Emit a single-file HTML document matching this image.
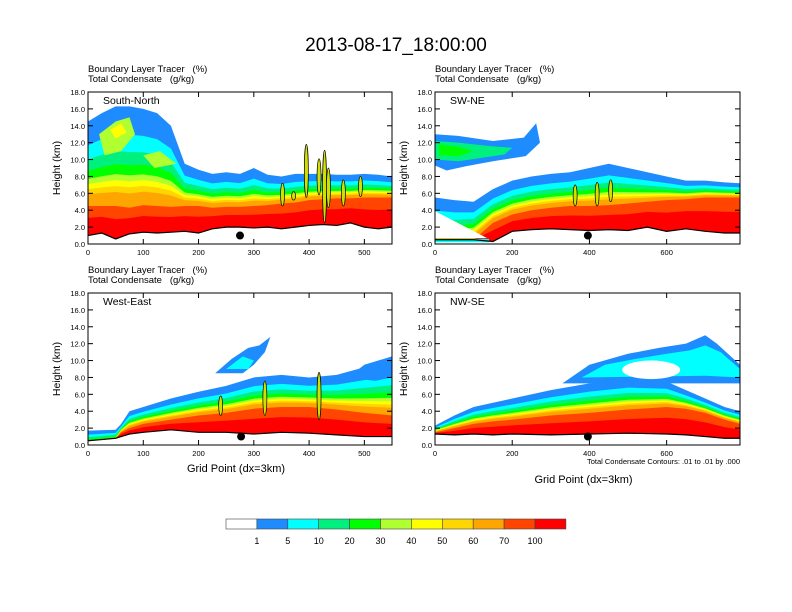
<!DOCTYPE html>
<html><head><meta charset="utf-8"><style>
body{margin:0;background:#fff;}
svg{display:block;font-family:"Liberation Sans",sans-serif;}
</style></head><body>
<svg id="c" width="792" height="612" viewBox="0 0 792 612"></svg>
<script>
// ---- data ----
const levelLabels = ["1","5","10","20","30","40","50","60","70","100"];
const levelColors = ["#ffffff","#1e8cff","#00ffff","#00f080","#00ff00","#b0ff30","#ffff00","#ffd700","#ffa500","#ff4500","#ff0000"];
const levelFractions = [1.0,0.72,0.55,0.42,0.32,0.26,0.2,0.14,0.0];
const redFraction = 0.6; // red (>100) top between terrain and orange-red top

const p1X = [0,25,50,75,100,125,150,175,200,225,250,275,300,325,350,375,400,425,450,475,500,525,550];
const p1Terrain = [1.0,1.3,0.6,1.2,1.4,1.3,1.4,1.5,1.3,1.8,2.0,2.0,1.9,2.0,1.8,2.0,2.2,2.3,2.2,2.5,2.0,1.8,2.0];
const p1Red = [4.5,4.5,4.5,4.3,4.6,4.5,4.4,4.5,4.5,4.3,4.4,4.4,4.5,4.6,4.8,4.9,5.2,5.3,5.4,5.4,5.5,5.5,5.5];
const p1Blue = [14.5,15.5,16.3,16.3,16.0,15.5,14.0,9.5,8.8,8.3,8.5,8.3,9.0,8.2,8.0,8.3,8.3,8.3,8.2,8.2,8.3,8.2,8.0];

const p2X = [0,50,100,150,200,250,300,350,400,450,500,550,600,650,700,750,790];
const p2Terrain = [0.5,0.5,0.5,0.3,1.5,1.7,1.8,1.7,1.6,1.7,1.6,2.0,1.5,1.8,1.5,1.3,1.3];
const p2Red = [0,0,0.5,2.5,3.5,4.0,4.3,4.5,4.5,4.6,4.8,5.0,5.2,5.3,5.5,5.5,5.5];
const p2Blue = [5.5,5.2,5.0,6.5,7.5,8.0,8.3,8.5,9.0,9.5,9.0,8.5,8.0,7.5,7.5,7.3,7.2];

const p3X = [0,50,60,75,100,150,200,250,300,350,400,450,500,550];
const p3Terrain = [0.5,0.8,1.0,1.3,1.5,1.8,1.5,1.5,1.3,1.5,1.4,1.2,1.0,1.0];
const p3Red = [0,0.5,1.5,2.0,2.5,3.0,3.5,3.8,4.3,4.5,4.5,4.2,3.8,3.5];
const p3Blue = [1.7,1.8,2.5,4.0,4.5,5.5,6.3,7.0,8.0,8.3,8.0,8.3,9.2,10.0];

const p4X = [0,50,100,150,200,300,400,500,600,650,700,750,790];
const p4Terrain = [1.3,1.2,1.3,1.2,1.3,1.2,1.3,1.4,1.3,1.2,1.0,0.8,0.8];
const p4Red = [1.5,2.0,2.5,2.8,3.0,3.5,3.8,4.2,4.5,4.3,3.8,3.0,2.5];
const p4Blue = [2.3,3.5,4.5,5.0,5.5,6.5,7.3,7.8,7.5,6.5,5.5,4.5,4.0];

const panels = [
 {name:"south-north",label:"South-North",x0:88,y0:92,w:304,h:152,xmax:550,xt:[0,100,200,300,400,500],X:p1X,T:p1Terrain,R:p1Red,B:p1Blue,dot:275},
 {name:"sw-ne",label:"SW-NE",x0:435,y0:92,w:305,h:152,xmax:790,xt:[0,200,400,600],X:p2X,T:p2Terrain,R:p2Red,B:p2Blue,dot:396},
 {name:"west-east",label:"West-East",x0:88,y0:293,w:304,h:152,xmax:550,xt:[0,100,200,300,400,500],X:p3X,T:p3Terrain,R:p3Red,B:p3Blue,dot:277},
 {name:"nw-se",label:"NW-SE",x0:435,y0:293,w:305,h:152,xmax:790,xt:[0,200,400,600],X:p4X,T:p4Terrain,R:p4Red,B:p4Blue,dot:396}
];
const blobs = [
 [1,[[0,13],[60,12.8],[150,12.2],[230,12.6],[262,14.3],[272,12],[235,10.4],[150,9.8],[80,9.2],[30,8.7],[0,9.3]],1],
 [1,[[0,12.2],[60,12],[140,11.6],[200,11.4],[180,10.6],[120,10.2],[60,9.8],[0,10]],3],
 [1,[[10,11.8],[60,11.5],[100,11.0],[60,10.4],[10,10.5]],4],
 [0,[[20,13],[50,14.5],[75,15],[85,13],[60,11],[30,10.5]],5],
 [0,[[40,13.5],[60,14.3],[70,13.2],[50,12.5]],6],
 [0,[[100,10.5],[130,11],[160,9.5],[120,9]],5],
 [2,[[230,8.5],[260,10.2],[290,11.5],[310,11.8],[330,12.8],[320,11],[300,9.5],[280,8.5]],1],
 [2,[[250,9],[280,10.5],[300,10],[290,9]],2],
 [2,[[470,8],[500,9.5],[550,10.5],[550,8],[520,7.6]],1],
 [3,[[330,7.3],[400,9.5],[500,10.8],[580,11.5],[650,12],[700,13],[730,12],[790,9.5],[790,7.3],[700,7.3]],1],
 [3,[[380,8],[440,9.5],[520,10.2],[600,10.8],[660,11.2],[700,11.8],[740,11],[790,9],[790,8],[700,8.2]],2],
];
const holes = [[3,560,8.9,75,1.1]];
const towers = [[0,352,4.5,7.2],[0,372,5.2,6.2],[0,395,5.5,11.8],[0,418,5.8,10.1],[0,428,2.5,11.1],[0,435,4.3,9.0],[0,462,4.5,7.6],[0,493,5.6,8.0],[1,363,4.5,7.0],[1,455,5,7.6],[1,420,4.5,7.3],[2,320,3.5,7.6],[2,418,3,8.6],[2,240,3.5,5.8]];

const NS="http://www.w3.org/2000/svg";
const svg=document.getElementById('c');
function mk(tag,attrs,parent){const e=document.createElementNS(NS,tag);for(const k in attrs)e.setAttribute(k,attrs[k]);(parent||svg).appendChild(e);return e;}

const title=mk('text',{x:396,y:51,'text-anchor':'middle','font-size':19});


title.textContent="2013-08-17_18:00:00";

panels.forEach((p,pi)=>{
 const g=mk('g',{});
 
 
 const sx=v=>p.x0+v/p.xmax*p.w, sy=v=>p.y0+p.h-v/18*p.h;
 const clip=mk('clipPath',{id:'cl'+pi},g);mk('rect',{x:p.x0,y:p.y0,width:p.w,height:p.h},clip);
 const cg=mk('g',{'clip-path':'url(#cl'+pi+')'},g);
 function band(top,color,name){
  let d='M'+p.X.map((x,i)=>sx(x)+','+sy(top[i])).join(' L');
  for(let i=p.X.length-1;i>=0;i--)d+=' L'+sx(p.X[i])+','+sy(p.T[i]);
  const path=mk('path',{d:d+'Z',fill:color},cg);
  
  
 }
 levelFractions.forEach((f,li)=>{
  band(p.X.map((x,i)=>Math.max(p.T[i],p.R[i]+(p.B[i]-p.R[i])*f)),levelColors[li+1],'band-'+levelLabels[li]);
 });
 band(p.X.map((x,i)=>Math.max(p.T[i],p.T[i]+(p.R[i]-p.T[i])*redFraction)),levelColors[10],'band-100');
 blobs.filter(b=>b[0]===pi).forEach(b=>{
  const path=mk('path',{d:'M'+b[1].map(q=>sx(q[0])+','+sy(q[1])).join(' L')+'Z',fill:levelColors[b[2]]},cg);
  
  
 });
 if(pi===1){const w=mk('path',{d:`M${sx(0)},${sy(0.7)} L${sx(135)},${sy(0.7)} L${sx(0)},${sy(3.9)}Z`,fill:'#fff'},cg);
  
  const s=mk('rect',{x:sx(0),y:sy(0.6),width:sx(140)-sx(0),height:sy(0.2)-sy(0.6),fill:'#00ffff'},cg);
  }
 holes.filter(h=>h[0]===pi).forEach(h=>{
  const e=mk('ellipse',{cx:sx(h[1]),cy:sy(h[2]),rx:h[3]/p.xmax*p.w,ry:h[4]/18*p.h,fill:'#fff'},cg);
  
 });
 towers.filter(t=>t[0]===pi).forEach(t=>{
  const e=mk('ellipse',{cx:sx(t[1]),cy:(sy(t[2])+sy(t[3]))/2,rx:2,ry:(sy(t[2])-sy(t[3]))/2,fill:'#d0e000',stroke:'#000','stroke-width':0.7},cg);
  
 });
 const tl=mk('polyline',{points:p.X.map((x,i)=>sx(x)+','+sy(p.T[i])).join(' '),fill:'none',stroke:'#000','stroke-width':1.2},cg);
 
 const dot=mk('circle',{cx:sx(p.dot),cy:sy(1.0),r:4,fill:'#000'},g);
 
 const fr=mk('rect',{x:p.x0,y:p.y0,width:p.w,height:p.h,fill:'none',stroke:'#000','stroke-width':1},g);
 
 for(let v=0;v<=18;v+=2){const y=sy(v);
  mk('line',{x1:p.x0,y1:y,x2:p.x0+5,y2:y,stroke:'#000'},g);mk('line',{x1:p.x0+p.w,y1:y,x2:p.x0+p.w-5,y2:y,stroke:'#000'},g);
  const t=mk('text',{x:p.x0-3,y:y+3,'text-anchor':'end','font-size':7.5},g);
  t.textContent=v.toFixed(1);}
 p.xt.forEach(v=>{const x=sx(v);
  mk('line',{x1:x,y1:p.y0+p.h,x2:x,y2:p.y0+p.h-5,stroke:'#000'},g);mk('line',{x1:x,y1:p.y0,x2:x,y2:p.y0+5,stroke:'#000'},g);
  const t=mk('text',{x:x,y:p.y0+p.h+11,'text-anchor':'middle','font-size':7.5},g);
  t.textContent=v;});
 const yl=mk('text',{transform:`translate(${p.x0-28},${p.y0+p.h/2}) rotate(-90)`,'text-anchor':'middle','font-size':10.5},g);
 yl.textContent="Height (km)";
 const h1=mk('text',{x:p.x0,y:p.y0-20,'font-size':9.5},g);
 h1.textContent="Boundary Layer Tracer\u00a0\u00a0\u00a0(%)";
 const h2=mk('text',{x:p.x0,y:p.y0-10,'font-size':9.5},g);
 h2.textContent="Total Condensate\u00a0\u00a0\u00a0(g/kg)";
 const pl=mk('text',{x:p.x0+15,y:p.y0+12,'font-size':10.5},g);
 pl.textContent=p.label;
 if(pi>=2){const xl=mk('text',{x:p.x0+p.w/2-4,y:pi===2?472:483,'text-anchor':'middle','font-size':11},g);
  xl.textContent="Grid Point (dx=3km)";}
});
const note=mk('text',{x:740,y:464,'text-anchor':'end','font-size':7.5});

note.textContent="Total Condensate Contours: .01 to .01 by .000";

const cb=mk('g',{});

levelColors.forEach((c,i)=>{
 const r=mk('rect',{x:226+i*30.9,y:519,width:30.9,height:10,fill:c,stroke:'#444','stroke-width':0.6},cb);
 
});
levelLabels.forEach((l,i)=>{
 const t=mk('text',{x:226+(i+1)*30.9,y:544,'text-anchor':'middle','font-size':9},cb);
 t.textContent=l;
});
</script>
</body></html>
